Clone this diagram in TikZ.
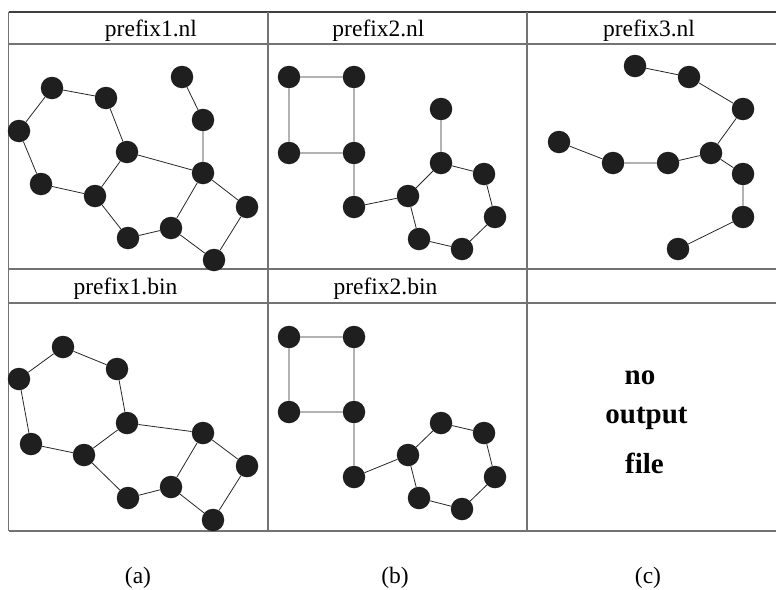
\documentclass[tikz,border=0pt]{standalone}
\usepackage{fontspec}
\setmainfont{Liberation Serif}
\begin{document}
\begin{tikzpicture}[x=1pt,y=-1pt,
  dot/.style={circle,inner sep=0pt,minimum size=22.5pt,fill=black!88,draw=none},
  link/.style={draw=black!85,line width=0.8pt},
  tline/.style={draw=black!55,line width=1.3pt},
  headtxt/.style={anchor=base,font=\fontsize{23.5}{26}\selectfont,inner sep=0pt},
  bigtxt/.style={anchor=base,font=\fontsize{29}{32}\selectfont\bfseries,inner sep=0pt},
  captxt/.style={anchor=base,font=\fontsize{23.5}{26}\selectfont,inner sep=0pt}]
\useasboundingbox (0,0) rectangle (776,589);
% table
\draw[tline,draw=black!75] (8.5,12) -- (776,12);
\draw[tline] (8.5,44) -- (776,44);
\draw[tline] (8.5,269) -- (776,269);
\draw[tline] (8.5,303) -- (776,303);
\draw[tline] (8.5,531) -- (776,531);
\draw[tline] (8.5,12) -- (8.5,531);
\draw[tline] (268,12) -- (268,531);
\draw[tline] (527,12) -- (527,531);
% headers
\node[headtxt] (h1) at (151,36) {prefix1.nl};
\node[headtxt] (h2) at (378.5,36) {prefix2.nl};
\node[headtxt] (h3) at (649,36) {prefix3.nl};
\node[headtxt] (h4) at (125.5,294) {prefix1.bin};
\node[headtxt] (h5) at (385.5,294) {prefix2.bin};
% panel 1 nl
\node[dot] (a1) at (52,88) {};
\node[dot] (b1) at (106,98) {};
\node[dot] (c1) at (19,131) {};
\node[dot] (d1) at (127,152) {};
\node[dot] (e1) at (182,77) {};
\node[dot] (f1) at (203,120) {};
\node[dot] (g1) at (203,173) {};
\node[dot] (hh1) at (41,184) {};
\node[dot] (i1) at (95,196) {};
\node[dot] (j1) at (247,207) {};
\node[dot] (k1) at (171,228) {};
\node[dot] (l1) at (128,238) {};
\node[dot] (m1) at (214,260) {};
\draw[link] (a1)--(b1) (a1)--(c1) (b1)--(d1) (c1)--(hh1) (hh1)--(i1) (i1)--(d1)
  (d1)--(g1) (e1)--(f1) (f1)--(g1) (g1)--(j1) (g1)--(k1) (i1)--(l1) (l1)--(k1)
  (k1)--(m1) (m1)--(j1);
% panel 1 bin
\node[dot] (a2) at (63,347) {};
\node[dot] (b2) at (117,369) {};
\node[dot] (c2) at (19,379) {};
\node[dot] (d2) at (127,423) {};
\node[dot] (g2) at (203,433) {};
\node[dot] (hh2) at (31,444) {};
\node[dot] (i2) at (84,455) {};
\node[dot] (j2) at (247,466) {};
\node[dot] (k2) at (171,487) {};
\node[dot] (l2) at (128,498) {};
\node[dot] (m2) at (213,520) {};
\draw[link] (a2)--(b2) (a2)--(c2) (b2)--(d2) (c2)--(hh2) (hh2)--(i2) (i2)--(d2)
  (d2)--(g2) (g2)--(j2) (g2)--(k2) (i2)--(l2) (l2)--(k2) (k2)--(m2) (m2)--(j2);
% panel 2 nl
\node[dot] (p1) at (289,77) {};
\node[dot] (p2) at (354,77) {};
\node[dot] (p3) at (289,153) {};
\node[dot] (p4) at (354,153) {};
\node[dot] (p5) at (354,207) {};
\node[dot] (q1) at (441,109) {};
\node[dot] (r1) at (441,163) {};
\node[dot] (s1) at (408,196) {};
\node[dot] (t1) at (484,174) {};
\node[dot] (u1) at (495,217) {};
\node[dot] (v1) at (419,239) {};
\node[dot] (w1) at (462,249) {};
\draw[link] (p1)--(p2) (p1)--(p3) (p2)--(p4) (p3)--(p4) (p4)--(p5) (p5)--(s1)
  (s1)--(r1) (r1)--(q1) (r1)--(t1) (t1)--(u1) (u1)--(w1) (w1)--(v1) (v1)--(s1);
% panel 2 bin
\node[dot] (pp1) at (289,337) {};
\node[dot] (pp2) at (354,337) {};
\node[dot] (pp3) at (289,412) {};
\node[dot] (pp4) at (354,412) {};
\node[dot] (pp5) at (354,477) {};
\node[dot] (r2) at (441,423) {};
\node[dot] (s2) at (408,455) {};
\node[dot] (t2) at (484,433) {};
\node[dot] (u2) at (495,477) {};
\node[dot] (v2) at (419,498) {};
\node[dot] (w2) at (462,509) {};
\draw[link] (pp1)--(pp2) (pp1)--(pp3) (pp2)--(pp4) (pp3)--(pp4) (pp4)--(pp5) (pp5)--(s2)
  (s2)--(r2) (r2)--(t2) (t2)--(u2) (u2)--(w2) (w2)--(v2) (v2)--(s2);
% panel 3 nl
\node[dot] (x1) at (635,66) {};
\node[dot] (x2) at (689,77) {};
\node[dot] (x3) at (743,109) {};
\node[dot] (x4) at (559,142) {};
\node[dot] (x5) at (613,163) {};
\node[dot] (x6) at (668,163) {};
\node[dot] (x7) at (711,153) {};
\node[dot] (x8) at (743,174) {};
\node[dot] (x9) at (743,217) {};
\node[dot] (x10) at (678,249) {};
\draw[link] (x1)--(x2) (x2)--(x3) (x3)--(x7) (x4)--(x5) (x5)--(x6) (x6)--(x7)
  (x7)--(x8) (x8)--(x9) (x9)--(x10);
% no output file
\node[bigtxt] (t1n) at (640,384) {no};
\node[bigtxt] (t2n) at (646.5,423) {output};
\node[bigtxt] (t3n) at (644.5,473) {file};
% captions
\node[captxt] (ca) at (138,583) {(a)};
\node[captxt] (cb) at (395,583) {(b)};
\node[captxt] (cc) at (648,583) {(c)};
\end{tikzpicture}
\end{document}
